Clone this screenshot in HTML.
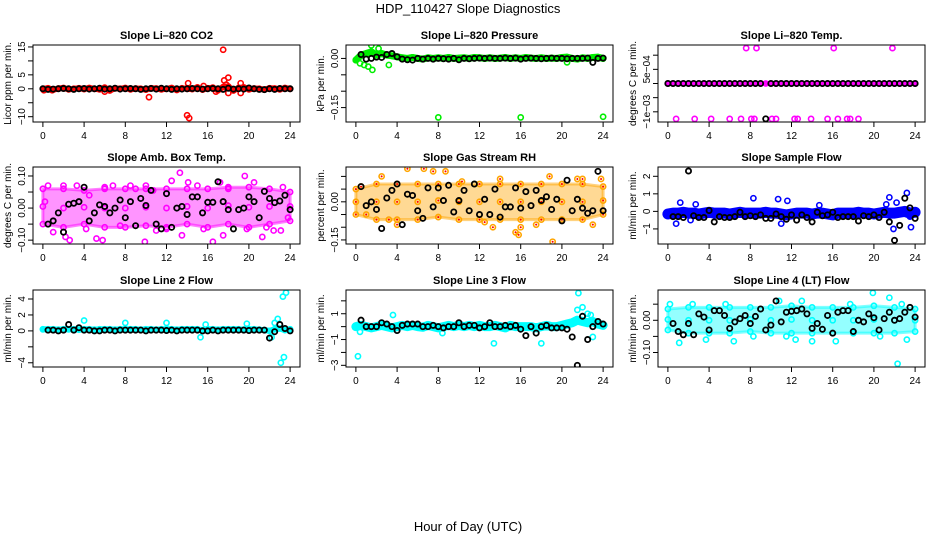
<!DOCTYPE html>
<html><head><meta charset="utf-8">
<style>
html,body{margin:0;padding:0;background:#fff;}
svg{display:block;font-family:"Liberation Sans",sans-serif;}
</style></head>
<body>
<svg id="chart" width="936" height="540" viewBox="0 0 936 540" xmlns="http://www.w3.org/2000/svg">
<rect x="0" y="0" width="936" height="540" fill="#fff"/>
<text x="468" y="13" text-anchor="middle" font-size="13">HDP_110427  Slope Diagnostics</text>
<text x="468" y="531" text-anchor="middle" font-size="13">Hour of Day (UTC)</text>
</svg>
<script>
// ---- shared hours ----
const hours = [0,0.5,1,1.5,2,2.5,3,3.5,4,4.5,5,5.5,6,6.5,7,7.5,8,8.5,9,9.5,10,10.5,11,11.5,12,12.5,13,13.5,14,14.5,15,15.5,16,16.5,17,17.5,18,18.5,19,19.5,20,20.5,21,21.5,22,22.5,23,23.5,24];
const envHours = [0,2,4,6,8,10,12,14,16,18,20,22,24];

// ---- Panel 1: CO2 ----
const co2Band = [0,0.2,-0.3,0.1,0.3,-0.2,0,0.2,-0.1,0.3,0,-0.2,0.4,-0.6,0.2,0,0.3,-0.2,0.1,0,-0.3,0.2,0.1,-0.2,0,0.3,-0.4,0.2,0,-0.1,0.5,-0.3,0.2,0.4,-0.5,0.6,0.8,-0.6,0.3,0.5,-0.2,0.1,0,-0.3,0.2,0.1,-0.2,0.3,0];
const co2OutX = [10.3,14,14.2,14.1,15.6,17.5,17.6,18,17.8,19.2,19.2,18,6,16.8,0.1,0.9];
const co2OutY = [-3,-9.5,-10.5,2,1,14,3,4,1.5,2,-1.5,-1.5,-1,-1,-0.5,-0.5];
const co2Black = [0,-0.2,-0.1,0,0.1,0,-0.2,0,0.1,-0.1,0,0.2,-0.1,0,0.2,-0.1,0,0.1,0,-0.2,0,0.1,-0.1,0.2,0,-0.2,0,-0.1,0,0.1,0,-0.1,0,0.1,0,-0.2,0.2,-0.1,0,-0.1,0.3,0,-0.2,-0.3,0,-0.2,0.1,0,0];

// ---- Panel 2: Pressure ----
const presBand = [-0.005,0.01,0.015,0.02,0.01,0.015,0.01,0.008,0.005,0.002,0,0.003,0,-0.002,0.002,0,0.002,0,0.003,0,0.001,0.002,0,0.003,0.002,0,0.002,0,0.001,0.003,0,0.002,0,0.003,0.001,0,0.002,0,0.001,0,0.003,0.004,0,-0.002,0.002,0,0.003,0.004,0];
const presOutX = [1.5,1.6,1.2,2.2,0.8,3.2,8,16,24,20.5,0.4];
const presOutY = [0.04,-0.035,-0.025,0.03,-0.02,-0.02,-0.18,-0.18,-0.178,-0.012,-0.015];
const presBlack = [0,0.012,-0.002,0,0.004,0.003,0.012,0.015,0.005,-0.002,-0.004,-0.005,0,-0.002,0,-0.002,0,-0.001,-0.002,0,-0.004,0,-0.001,0,0.001,0,0.001,0,0,0.001,0,0.001,-0.002,0,0.001,0,-0.001,0,0.001,0,0,-0.001,0,0,0,0.001,-0.012,0,0.001];

// ---- Panel 3: Li-820 Temp ----
const tempBand = [0,0,0,0,0,0,0,0,0,0,0,0,0,0,0,0,0,0,0,0,0,0,0,0,0,0,0,0,0,0,0,0,0,0,0,0,0,0,0,0,0,0,0,0,0,0,0,0,0];
const tempOutX = [7.6,8.6,16.1,21.8,0.8,2.6,4.2,6,7.1,8.1,8.4,10.1,10.5,12.3,12.6,13.9,15.5,16.5,17.4,17.7,18.5];
const tempOutY = [0.00125,0.00125,0.00125,0.00125,-0.00125,-0.00125,-0.00125,-0.00125,-0.00125,-0.00125,-0.00125,-0.00125,-0.00125,-0.00125,-0.00125,-0.00125,-0.00125,-0.00125,-0.00125,-0.00125,-0.00125];
const tempBlack = [0,0,0,0,0,0,0,0,0,0,0,0,0,0,0,0,0,0,0,-0.00125,0,0,0,0,0,0,0,0,0,0,0,0,0,0,0,0,0,0,0,0,0,0,0,0,0,0,0,0,0];

// ---- Panel 4: Amb Box Temp ----
const ambHi = [0.06,0.06,0.055,0.06,0.06,0.06,0.06,0.06,0.06,0.065,0.065,0.06,0.05];
const ambLo = [-0.05,-0.06,-0.05,-0.06,-0.06,-0.055,-0.06,-0.05,-0.06,-0.05,-0.06,-0.05,-0.04];
const ambOutX = [0.5,1,2.2,2.6,3.3,4.2,5.2,5.8,6,7.5,9,9.9,10.7,12.5,13.3,13.5,14.1,15.6,16.5,17.5,18,19.6,19.8,20.5,21.3,21.7,22.4,23.1,23.3,23.8,0.2,11,8.5,15,17.2,2,4.5,6.8,10,12];
const ambOutY = [0.07,-0.075,-0.09,-0.1,0.07,-0.065,-0.095,-0.1,0.065,-0.055,0.06,-0.105,0.055,0.085,0.11,-0.085,0.08,-0.065,-0.105,-0.085,0.06,0.1,-0.065,0.08,-0.09,-0.06,-0.07,-0.07,0.065,-0.03,0.02,-0.07,0.07,0.07,0.08,0.07,0.04,0.07,0.07,-0.065];
const ambBlack = [0.005,-0.05,-0.04,-0.015,-0.075,0.012,0.015,0.02,0.065,-0.04,-0.015,0.01,0.005,-0.015,0,0.025,-0.03,0.02,-0.055,0.03,0.008,0.055,-0.05,-0.065,0.045,-0.06,0,0.005,-0.02,0.035,0.035,-0.015,0.018,0.018,0.082,0.02,-0.005,-0.065,-0.005,0,0.035,0.02,-0.03,0.052,0.03,0.017,0.022,0.04,-0.005];

// ---- Panel 5: Gas Stream RH ----
const rhHi = [0.05,0.07,0.07,0.07,0.07,0.07,0.07,0.07,0.07,0.07,0.07,0.07,0.06];
const rhLo = [-0.05,-0.07,-0.07,-0.07,-0.06,-0.07,-0.07,-0.07,-0.07,-0.07,-0.07,-0.07,-0.05];
const rhOutX = [0.5,2.5,4,5,6.6,7.5,8.7,13.3,15.5,15.8,16,17.5,19.1,18.8,21.5,22,23,23.8,1,12.5,3.2,10.3,14,20];
const rhOutY = [0.06,0.1,-0.09,0.13,0.13,0.12,0.12,-0.1,-0.12,-0.13,-0.1,-0.09,-0.157,0.1,0.09,0.09,-0.09,0.09,-0.05,-0.08,-0.07,0.08,0.09,-0.07];
const rhBlack = [0.02,0.06,-0.015,0,-0.03,-0.105,0.015,0.045,0.07,-0.09,0.03,0.025,-0.035,-0.065,0.055,-0.02,0.055,0.005,0.065,-0.04,0.005,0.045,-0.035,0.07,-0.05,0.01,-0.05,0.05,-0.06,-0.02,-0.02,0.055,-0.025,0.04,-0.015,0.045,0.005,0.02,-0.03,0.01,-0.075,0.085,-0.035,0.01,-0.025,-0.045,-0.035,0.12,-0.035];

// ---- Panel 6: Sample Flow ----
const sfBand = [-0.15,-0.1,-0.1,-0.05,-0.1,-0.1,-0.15,-0.1,-0.05,-0.1,-0.1,-0.1,-0.15,-0.1,-0.05,-0.1,-0.1,-0.1,-0.1,-0.05,-0.1,-0.1,-0.15,-0.2,-0.15,-0.1,-0.1,-0.1,-0.15,-0.1,-0.1,-0.15,-0.2,-0.1,-0.1,-0.1,-0.1,-0.05,-0.1,-0.1,-0.15,-0.1,-0.05,-0.1,-0.1,-0.05,0,-0.1,-0.05];
const sfOutX = [1.2,0.8,2.2,2.7,8.3,10.7,11,11.6,14.7,21.5,21.9,22.2,23.2,23.6,23.5,23.9,21.2];
const sfOutY = [0.5,-0.7,-0.5,0.4,0.75,0.7,-0.7,0.6,0.35,0.8,-1,0.5,1.05,-0.9,-0.3,0,0.4];
const sfBlack = [-0.3,-0.3,-0.3,-0.35,2.3,-0.25,-0.35,-0.35,0.05,-0.6,-0.3,-0.35,-0.35,-0.3,-0.05,-0.3,-0.25,-0.3,-0.2,-0.4,-0.4,-0.15,-0.3,-0.45,-0.2,-0.5,-0.2,-0.35,-0.6,-0.05,-0.25,-0.2,-0.05,-0.35,-0.3,-0.3,-0.3,-0.55,-0.25,-0.3,-0.2,-0.35,-0.05,-0.6,-1.65,-0.8,0.75,0.2,-0.4];

// ---- Panel 7: Line 2 Flow ----
const l2Band = [0.2,0.2,0.2,0.15,0.2,0.2,0.2,0.15,0.2,0.2,0.15,0.2,0.2,0.2,0.15,0.2,0.2,0.2,0.2,0.15,0.2,0.2,0.15,0.2,0.2,0.2,0.15,0.2,0.2,0.2,0.2,0.1,0.2,0.2,0.15,0.2,0.2,0.2,0.2,0.15,0.2,0.2,0.15,0.1,0,0.2,0.3,0.1,0.2];
const l2OutX = [4,8,12,15.3,22.8,23.3,23.6,23.1,23.4,22.5,19.8,15.8,22.2];
const l2OutY = [1.3,1,1,-0.8,1.5,4.3,4.8,-4,-3.3,1,0.9,0.8,-0.8];
const l2Black = [0.1,0.1,0.1,0,0.1,0.8,0.1,0.4,0.1,0.1,0,0,0.1,0.1,0,0.1,0.1,0.1,0.1,0.1,0,0.1,0.1,0.1,0.05,0.1,0,0.1,0.1,0.1,0.1,0,0,0.1,0,0.1,0.1,0.1,0.1,0.1,0.05,0.1,0.1,0.1,-0.9,-0.1,0.8,0.3,0];

// ---- Panel 8: Line 3 Flow ----
const l3Band = [0,0.1,0,-0.1,0,0.1,0,-0.1,0,0.1,0,0.1,0,-0.05,0.1,0,-0.1,0,0.1,0,0.1,0,0.1,0,0.1,0,0,0.1,0,-0.1,0.1,0,0,0,0,-0.1,0,0.1,0,0,0.1,0.2,0.3,0.5,0.4,0.3,0.4,0.2,0.1];
const l3OutX = [0.2,3.6,13.4,18,21.6,22,21.5,22.5,22.8,23,0.4,8.4];
const l3OutY = [-2.3,0.9,-1.3,-1.3,2.6,1.5,1.3,1,0.9,-0.8,-0.4,-0.5];
const l3Black = [0,0.5,0,0,0,0.3,0.2,0,-0.3,0.1,0.2,0.2,0.2,0,0,0.1,0,-0.1,0,0,0.3,0,0.1,0.1,-0.1,0,0.3,0,0,0.1,0,0.1,-0.2,-0.7,0,-0.5,0,0.1,-0.1,-0.1,-0.1,-0.2,-0.8,-3,0.8,-1,0,0.4,0.2];

// ---- Panel 9: Line 4 (LT) Flow ----
const l4Hi = [0.035,0.04,0.04,0.04,0.04,0.04,0.045,0.04,0.04,0.04,0.045,0.04,0.035];
const l4Lo = [-0.03,-0.04,-0.04,-0.04,-0.035,-0.04,-0.04,-0.04,-0.04,-0.04,-0.04,-0.04,-0.035];
const l4OutX = [1.1,19.9,22.3,0.2,3.7,5.6,6.4,12.4,14,16.3,21.5,22.7,23.2,10.8,13,2.4,8.3,17.7,11.5,20.6];
const l4OutY = [-0.07,0.085,-0.135,0.05,-0.06,0.05,-0.065,-0.06,-0.065,-0.065,0.07,0.05,-0.06,0.06,0.06,0.05,-0.05,0.05,-0.05,-0.05];
const l4Black = [0,-0.01,-0.035,-0.045,-0.01,-0.045,0.02,0.01,-0.03,0.03,0.03,0.015,-0.025,-0.005,0.005,0.015,-0.01,0.012,0.035,-0.03,-0.015,0.06,-0.005,0.025,0.028,0.03,0.035,0.02,-0.025,-0.01,-0.028,0.015,-0.04,0.025,0.03,0.03,-0.035,0,-0.005,0.02,0.008,-0.03,0.005,0.025,0,0.005,0.025,0.04,0.01];

const panels = [
 {name:'co2',title:'Slope Li\u2013820 CO2',ylab:'Licor ppm per min.',col:0,row:0,yMin:-11.9,yMax:15.7,ticks:[-10,-5,0,5,10,15],labels:{'-10':'\u221210','0':'0','5':'5','15':'15'},color:'#ff0000',band:co2Band,bandW:6,outX:co2OutX,outY:co2OutY,black:co2Black},
 {name:'pressure',title:'Slope Li\u2013820 Pressure',ylab:'kPa per min.',col:1,row:0,yMin:-0.194,yMax:0.041,ticks:[0,-0.05,-0.1,-0.15],labels:{'0':'0.00','-0.15':'\u22120.15'},color:'#00ee00',band:presBand,bandW:7,outX:presOutX,outY:presOutY,black:presBlack},
 {name:'li820-temp',title:'Slope Li\u2013820 Temp.',ylab:'degrees C per min.',col:2,row:0,yMin:-0.00136,yMax:0.00136,ticks:[0.001,0.0005,0,-0.0005,-0.001],labels:{'0.0005':'5e\u221204','-0.001':'\u22121e\u221203'},color:'#ff00ff',band:tempBand,bandW:5,outX:tempOutX,outY:tempOutY,black:tempBlack},
 {name:'amb-box-temp',title:'Slope Amb. Box Temp.',ylab:'degrees C per min.',col:0,row:1,yMin:-0.112,yMax:0.128,ticks:[-0.1,-0.05,0,0.05,0.1],labels:{'-0.1':'\u22120.10','0':'0.00','0.1':'0.10'},color:'#ff00ff',hi:ambHi,lo:ambLo,outX:ambOutX,outY:ambOutY,black:ambBlack},
 {name:'gas-stream-rh',title:'Slope Gas Stream RH',ylab:'percent per min.',col:1,row:1,yMin:-0.166,yMax:0.137,ticks:[-0.15,-0.1,-0.05,0,0.05,0.1],labels:{'-0.15':'\u22120.15','0':'0.00'},color:'#ffa500',dot:'#ff0000',hi:rhHi,lo:rhLo,outX:rhOutX,outY:rhOutY,black:rhBlack},
 {name:'sample-flow',title:'Slope Sample Flow',ylab:'ml/min per min.',col:2,row:1,yMin:-1.86,yMax:2.53,ticks:[-1,0,1,2],labels:{'-1':'\u22121','0':'0','1':'1','2':'2'},color:'#0000ff',band:sfBand,bandW:11,outX:sfOutX,outY:sfOutY,black:sfBlack},
 {name:'line2-flow',title:'Slope Line 2 Flow',ylab:'ml/min per min.',col:0,row:2,yMin:-4.53,yMax:5.13,ticks:[-4,-2,0,2,4],labels:{'-4':'\u22124','0':'0','2':'2','4':'4'},color:'#00ffff',band:l2Band,bandW:6,outX:l2OutX,outY:l2OutY,black:l2Black},
 {name:'line3-flow',title:'Slope Line 3 Flow',ylab:'ml/min per min.',col:1,row:2,yMin:-3.13,yMax:2.84,ticks:[-3,-2,-1,0,1,2],labels:{'-3':'\u22123','-1':'\u22121','1':'1'},color:'#00ffff',band:l3Band,bandW:9,outX:l3OutX,outY:l3OutY,black:l3Black},
 {name:'line4-flow',title:'Slope Line 4 (LT) Flow',ylab:'ml/min per min.',col:2,row:2,yMin:-0.145,yMax:0.094,ticks:[-0.15,-0.1,-0.05,0,0.05],labels:{'-0.1':'\u22120.10','0':'0.00'},color:'#00ffff',hi:l4Hi,lo:l4Lo,outX:l4OutX,outY:l4OutY,black:l4Black}
];

const NS = 'http://www.w3.org/2000/svg';
const svg = document.getElementById('chart');
const colLeft = [33,346,658], rowTop = [45,167,290];
const W = 267, H = 77;
const xTicks = [0,4,8,12,16,20,24];
function mk(tag, attrs, parent){const e=document.createElementNS(NS,tag);for(const k in attrs)e.setAttribute(k,attrs[k]);parent.appendChild(e);return e;}

panels.forEach(p=>{
  const L=colLeft[p.col], T=rowTop[p.row];
  const xs=h=>L+(h+0.96)/25.92*W;
  const ys=v=>T+H-(v-p.yMin)/(p.yMax-p.yMin)*H;
  const g=mk('g',{},svg);
  
  
  const t=mk('text',{x:L+W/2,y:T-6,'text-anchor':'middle','font-size':'11','font-weight':'bold'},g);
  t.textContent=p.title;
  
  
  const yl=mk('text',{x:0,y:0,'text-anchor':'middle','font-size':'10',transform:`translate(${L-22},${T+H/2}) rotate(-90)`},g);
  yl.textContent=p.ylab;
  
  
  const clip='clip-'+p.name;
  const cp=mk('clipPath',{id:clip},g); mk('rect',{x:L,y:T,width:W,height:H},cp);
  const plot=mk('g',{'clip-path':`url(#${clip})`},g);
  
  
  if(p.hi){
    let d='M'+envHours.map((h,i)=>xs(h)+','+ys(p.hi[i])).join(' L');
    d+=' L'+envHours.slice().reverse().map((h,i)=>xs(h)+','+ys(p.lo[p.lo.length-1-i])).join(' L')+' Z';
    const a=mk('path',{d:d,fill:p.color,'fill-opacity':0.42,stroke:p.color,'stroke-width':3,'stroke-opacity':0.5},plot);
    
    
    envHours.forEach((h,i)=>{
      [p.hi[i],p.lo[i],(p.hi[i]+p.lo[i])/2].forEach(v=>{
        const c=mk('circle',{cx:xs(h),cy:ys(v),r:2.6,fill:'none',stroke:p.color,'stroke-width':1.6},plot);
        
        
        if(p.dot){
          const dd=mk('circle',{cx:xs(h),cy:ys(v),r:1,fill:p.dot},plot);
          
          
        }
      });
    });
  }
  if(p.band){
    const pl=mk('polyline',{points:hours.map((h,i)=>xs(h)+','+ys(p.band[i])).join(' '),fill:'none',stroke:p.color,'stroke-width':p.bandW,'stroke-linejoin':'round','stroke-linecap':'round'},plot);
    
    
    hours.forEach((h,i)=>{
      const c=mk('circle',{cx:xs(h),cy:ys(p.band[i]),r:2.6,fill:'none',stroke:p.color,'stroke-width':1.6},plot);
      
      
    });
  }
  p.outX.forEach((h,i)=>{
    const c=mk('circle',{cx:xs(h),cy:ys(p.outY[i]),r:2.6,fill:'none',stroke:p.color,'stroke-width':1.6},plot);
    
    
    if(p.dot){
      const d=mk('circle',{cx:xs(h),cy:ys(p.outY[i]),r:1,fill:p.dot},plot);
      
      
    }
  });
  hours.forEach((h,i)=>{
    if(h===0 && p.name!=='co2' && p.name!=='li820-temp') return;
    const c=mk('circle',{cx:xs(h),cy:ys(p.black[i]),r:2.6,fill:'none',stroke:'#000','stroke-width':1.8},plot);
    
    
  });
  const b=mk('rect',{x:L,y:T,width:W,height:H,fill:'none',stroke:'#000','stroke-width':1},g);
  
  
  mk('line',{x1:xs(0),x2:xs(24),y1:T+H,y2:T+H,stroke:'#000'},g);
  xTicks.forEach(h=>{
    mk('line',{x1:xs(h),x2:xs(h),y1:T+H,y2:T+H+5,stroke:'#000'},g);
    const tl=mk('text',{x:xs(h),y:T+H+17,'text-anchor':'middle','font-size':'10'},g);
    tl.textContent=String(h);
    
    
  });
  p.ticks.forEach(v=>{
    const y=ys(v);
    if(y<T-1||y>T+H+1) return;
    mk('line',{x1:L-5,x2:L,y1:y,y2:y,stroke:'#000'},g);
    const lab=p.labels[String(v)];
    if(lab){
      const tl=mk('text',{x:0,y:0,'text-anchor':'middle','font-size':'10',transform:`translate(${L-8},${y}) rotate(-90)`},g);
      tl.textContent=lab;
      
      
    }
  });
});
</script>
</body></html>
